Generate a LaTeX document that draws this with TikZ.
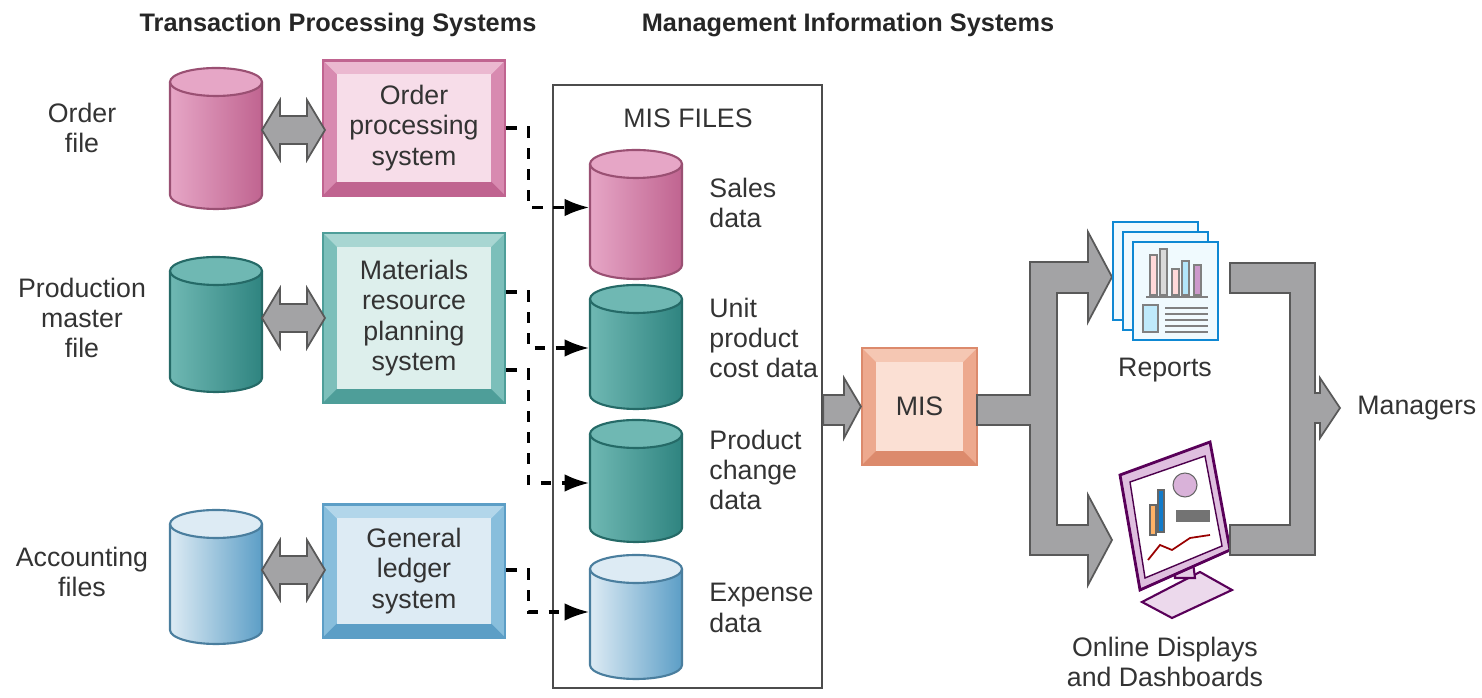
\documentclass[tikz,border=0pt]{standalone}
\usepackage{fontspec}
\setmainfont{Liberation Sans}
\usepackage{tikz}
\usetikzlibrary{positioning,calc,arrows.meta}
\tikzset{>=Latex}

\definecolor{pinkmid}{HTML}{D88AB0}
\definecolor{pinklt}{HTML}{EBB8D0}
\definecolor{pinkdk}{HTML}{C06490}
\definecolor{pinkin}{HTML}{F7DDE9}
\definecolor{pinkcyl}{HTML}{E6A6C6}
\definecolor{tealmid}{HTML}{7CBFBA}
\definecolor{teallt}{HTML}{A8D6D2}
\definecolor{tealdk}{HTML}{4E9E99}
\definecolor{tealin}{HTML}{DDEFEC}
\definecolor{tealcyl}{HTML}{6FB8B3}
\definecolor{tealcyldk}{HTML}{2F8480}
\definecolor{bluemid}{HTML}{88BEDC}
\definecolor{bluelt}{HTML}{B2D6EA}
\definecolor{bluedk}{HTML}{5C9EC6}
\definecolor{bluein}{HTML}{DDEBF4}
\definecolor{salmid}{HTML}{EDA98E}
\definecolor{sallt}{HTML}{F5C7B3}
\definecolor{saldk}{HTML}{DC8A6C}
\definecolor{salin}{HTML}{FBE0D4}
\definecolor{fatgray}{HTML}{A3A3A5}

\def\pb{path picture bounding box}
\tikzset{
  txt/.style={font=\fontsize{7.6}{8.6}\selectfont, align=center, text=black!80},
  head/.style={font=\bfseries\fontsize{7.2}{9}\selectfont, text=black!85},
  bevel box/.style n args={5}{txt, draw=#2, line width=0.6pt, inner sep=0pt,
    minimum width=#1cm,
    path picture={
      \fill[#3] (\pb.north west) rectangle (\pb.south east);
      \fill[#4] (\pb.north west) -- (\pb.north east) -- ([shift={(-14,14)}]\pb.north east)
                -- ([shift={(14,14)}]\pb.north west) -- cycle;
      \fill[#2] (\pb.south west) -- (\pb.south east) -- ([shift={(-14,-14)}]\pb.south east)
                -- ([shift={(14,-14)}]\pb.south west) -- cycle;
      \fill[#5] ([shift={(14,14)}]\pb.north west) rectangle ([shift={(-14,-14)}]\pb.south east);
    }},
  dash conn/.style={dashed, line width=0.9pt, -{Latex[length=7pt,width=5pt]}},
  fat/.style={fill=fatgray, draw=black!65, line width=0.5pt},
}

% cylinder: name, x left, y top, y bottom, light, dark
\newcommand{\drum}[6]{%
  \node[inner sep=0pt, minimum width=0.92cm, minimum height={(#4-#3)*0.01cm}] (#1) at ({#2+46},{(#3+#4)/2}) {};
  \shade[left color=#5, right color=#6] (#2,{#3+14}) rectangle ({#2+92},#4);
  \shade[left color=#5, right color=#6] ({#2+46},#4) ellipse[x radius=46, y radius=14];
  \fill[#5] ({#2+46},{#3+14}) ellipse[x radius=46, y radius=14];
  \draw[#6!80!black, line width=0.6pt] (#2,{#3+14}) -- (#2,#4) arc[start angle=180, end angle=0, x radius=46, y radius=14]
    -- ({#2+92},{#3+14});
  \draw[#6!80!black, line width=0.6pt] ({#2+46},{#3+14}) ellipse[x radius=46, y radius=14];
}
% double-headed fat arrow: x0, x1, y centre
\newcommand{\twoway}[3]{%
  \draw[fat] (#1,#3) -- ({#1+18},{#3-30}) -- ({#1+18},{#3-14}) -- ({#2-18},{#3-14}) -- ({#2-18},{#3-30})
    -- (#2,#3) -- ({#2-18},{#3+30}) -- ({#2-18},{#3+14}) -- ({#1+18},{#3+14}) -- ({#1+18},{#3+30}) -- cycle;
}

\begin{document}
\begin{tikzpicture}[x=0.01cm, y=-0.01cm]
\useasboundingbox (0,0) rectangle (1482,698);

% headings
\node[head] at (338,25) {Transaction Processing Systems};
\node[head] at (848,25) {Management Information Systems};

% left labels
\node[txt] (ordlbl) at (82,128) {Order\\file};
\node[txt] (prodlbl) at (82,318) {Production\\master\\file};
\node[txt] (acclbl) at (82,572) {Accounting\\files};

% tps data files
\drum{ordfile}{170}{68}{195}{pinkcyl}{pinkdk}
\drum{prodfile}{170}{257}{378}{tealcyl}{tealcyldk}
\drum{accfile}{170}{510}{630}{bluein}{bluedk}

% tps systems
\node[bevel box={1.82}{pinkdk}{pinkmid}{pinklt}{pinkin}, minimum height=1.35cm] (ops) at (414,128) {Order\\processing\\system};
\node[bevel box={1.82}{tealdk}{tealmid}{teallt}{tealin}, minimum height=1.70cm] (mrp) at (414,318) {Materials\\resource\\planning\\system};
\node[bevel box={1.82}{bluedk}{bluemid}{bluelt}{bluein}, minimum height=1.33cm] (gls) at (414,571) {General\\ledger\\system};

\twoway{262}{325}{130}
\twoway{262}{325}{318}
\twoway{262}{325}{570}

% mis files frame
\node[draw=black!70, line width=0.6pt, minimum width=2.69cm, minimum height=6.03cm, inner sep=0pt] (misfiles) at (687.5,386.5) {};
\node[txt] at (688,118) {MIS FILES};

\drum{sales}{590}{150}{265}{pinkcyl}{pinkdk}
\drum{unitcost}{590}{285}{395}{tealcyl}{tealcyldk}
\drum{change}{590}{420}{528}{tealcyl}{tealcyldk}
\drum{expense}{590}{555}{665}{bluein}{bluedk}

\node[txt, align=left, anchor=west] at (697,203) {Sales\\data};
\node[txt, align=left, anchor=west] at (697,338) {Unit\\product\\cost data};
\node[txt, align=left, anchor=west] at (697,470) {Product\\change\\data};
\node[txt, align=left, anchor=west] at (697,608) {Expense\\data};

% dashed flows
\draw[dash conn] (ops.east) -- ++(22,0) |- ([yshift=0pt]sales.west);
\draw[dash conn] ([shift={(0,-26)}]mrp.east) -- ++(22,0) |- ([shift={(0,8)}]unitcost.west);
\draw[dash conn] ([shift={(0,52)}]mrp.east) -- ++(22,0) |- ([shift={(0,9)}]change.west);
\draw[dash conn] ([shift={(0,-1)}]gls.east) -- ++(22,0) |- ([shift={(0,2)}]expense.west);

% mis
\node[bevel box={1.15}{saldk}{salmid}{sallt}{salin}, minimum height=1.17cm] (mis) at (919.5,406.5) {MIS};
\draw[fat] (misfiles.east |- 0,395) -- (844,395) -- (844,378) -- (mis.west) -- (844,438) -- (844,425)
  -- (misfiles.east |- 0,425) -- cycle;

% branching arrow
\draw[fat] (977,395) -- (1030,395) -- (1030,262) -- (1088,262) -- (1088,232) -- (1112,277) -- (1088,322)
  -- (1088,293) -- (1057,293) -- (1057,525) -- (1088,525) -- (1088,495) -- (1112,540) -- (1088,585)
  -- (1088,555) -- (1030,555) -- (1030,425) -- (977,425) -- cycle;

% reports
\foreach \o in {0,10,20}
  \draw[draw=cyan!70!blue, fill=cyan!6, line width=0.6pt] ({1113+\o},{222+\o}) rectangle ({1198+\o},{320+\o});
\foreach \bx/\bh/\bc in {1150/40/pink!60,1160/46/black!15,1172/26/pink!60,1182/34/cyan!30,1194/30/violet!40}
  \draw[black!50, fill=\bc, line width=0.3pt] (\bx,295) rectangle ({\bx+7},{295-\bh});
\draw[black!50, line width=0.4pt] (1146,297) -- (1208,297);
\draw[black!50, fill=cyan!25, line width=0.3pt] (1143,305) rectangle (1158,332);
\foreach \ly in {308,314,320,326,332}
  \draw[black!50, line width=0.4pt] (1165,\ly) -- (1208,\ly);
\node[txt] (reports) at (1165,370) {Reports};

% monitor
\draw[violet!70!black, fill=violet!15, line width=0.6pt] (1142,602) -- (1200,572) -- (1232,590) -- (1172,618) -- cycle;
\draw[violet!70!black, fill=violet!20, line width=0.6pt] (1175,578) -- (1175,560) -- (1192,555) -- (1195,578) -- cycle;
\draw[violet!70!black, fill=violet!25, line width=0.8pt] (1120,475) -- (1210,442) -- (1230,550) -- (1140,590) -- cycle;
\draw[violet!60!black, fill=white, line width=0.4pt] (1130,482) -- (1205,456) -- (1222,546) -- (1145,578) -- cycle;
\draw[black!60, fill=orange!60, line width=0.3pt] (1150,535) rectangle (1156,505);
\draw[black!60, fill=cyan!60!blue, line width=0.3pt] (1158,532) rectangle (1164,490);
\draw[black!60, fill=violet!30, line width=0.3pt] (1185,485) circle[radius=12];
\fill[black!55] (1176,510) rectangle (1210,522);
\draw[red!60!black, line width=0.5pt] (1148,560) -- (1160,545) -- (1172,550) -- (1190,538) -- (1210,535);
\node[txt] (dash) at (1165,662) {Online Displays\\and Dashboards};

% to managers
\draw[fat] (1230,263) -- (1315,263) -- (1315,393) -- (1320,393) -- (1320,378) -- (1340,408) -- (1320,438)
  -- (1320,423) -- (1315,423) -- (1315,555) -- (1230,555) -- (1230,525) -- (1290,525) -- (1290,293)
  -- (1230,293) -- cycle;
\node[txt, anchor=west] (mgrs) at (1345,408) {Managers};
\end{tikzpicture}
\end{document}
